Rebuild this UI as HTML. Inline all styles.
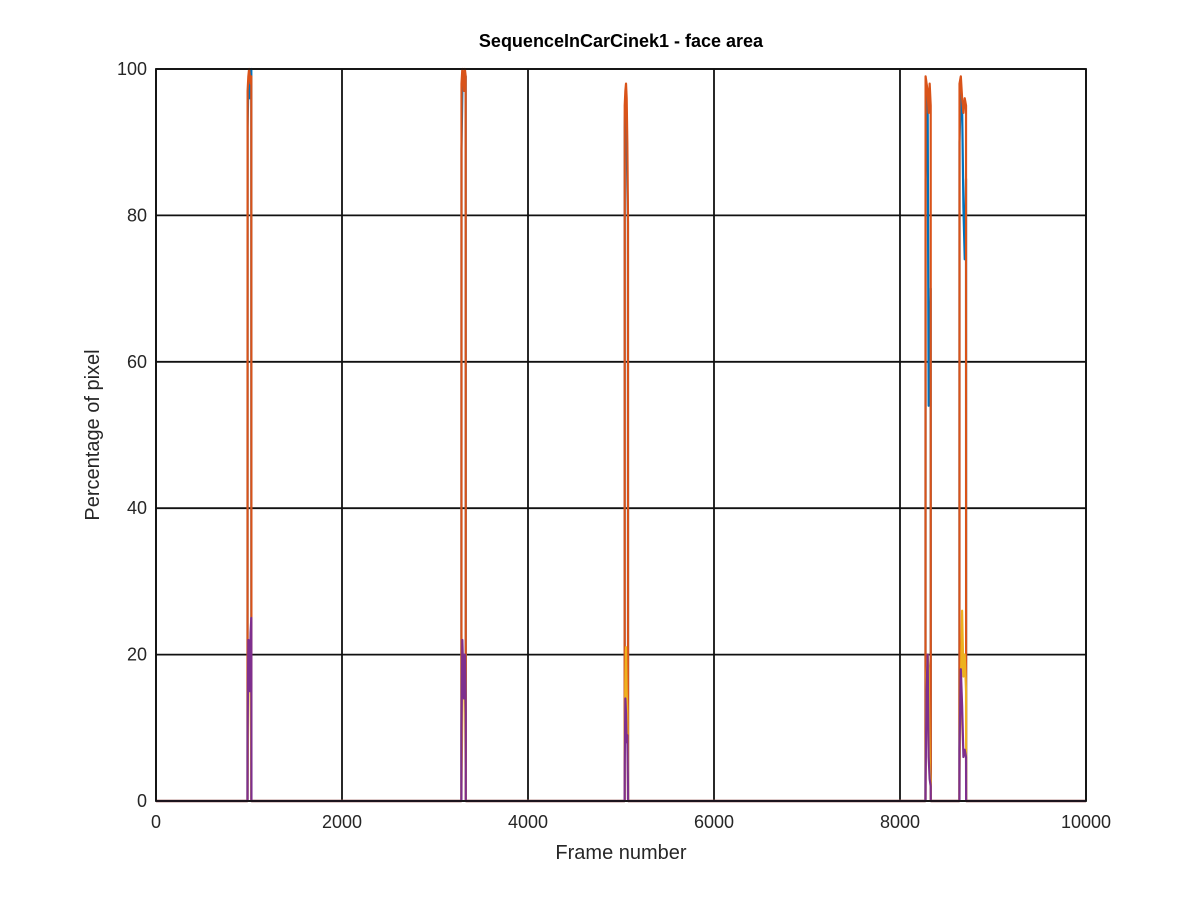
<!DOCTYPE html>
<html><head><meta charset="utf-8"><style>
html,body{margin:0;padding:0;background:#fff}
svg{display:block;font-family:"Liberation Sans",sans-serif}
</style></head><body>
<svg id="chart" width="1200" height="898">
<rect x="0" y="0" width="1200" height="898" fill="#fff"/>
<g id="grid"></g>
<g id="series"></g>
<g id="axes"></g>
<text x="621" y="47" text-anchor="middle" font-size="18" font-weight="bold" fill="#000">SequenceInCarCinek1 - face area</text>
<text x="621" y="859" text-anchor="middle" font-size="20" fill="#262626">Frame number</text>
<text transform="translate(99,435) rotate(-90)" text-anchor="middle" font-size="20" fill="#262626">Percentage of pixel</text>
</svg>
<script>
const xTicks = [0, 2000, 4000, 6000, 8000, 10000];
const yTicks = [0, 20, 40, 60, 80, 100];
const frames = [0,
 984, 985, 993, 1001, 1009, 1017, 1025, 1026,
 3284, 3285, 3294, 3303, 3312, 3321, 3330, 3331,
 5039, 5040, 5047, 5054, 5061, 5068, 5075, 5076,
 8274, 8275, 8286, 8297, 8308, 8319, 8330, 8331,
 8639, 8640, 8654, 8668, 8682, 8696, 8710, 8711,
 10000];
const blueVals = [0,
 0, 92, 98, 99, 96, 99, 100, 0,
 0, 89, 97, 99, 98, 97, 99, 0,
 0, 92, 96, 97, 91, 84, 79, 0,
 0, 85, 96, 97, 54, 60, 70, 0,
 0, 90, 97, 95, 81, 74, 85, 0,
 0];
const orangeVals = [0,
 0, 97, 99, 100, 99, 98, 99, 0,
 0, 98, 100, 99, 97, 100, 99, 0,
 0, 95, 97, 98, 96, 90, 80, 0,
 0, 99, 98, 97, 94, 98, 95, 0,
 0, 98, 99, 96, 94, 96, 95, 0,
 0];
const yellowVals = [0,
 0, 2, 16, 20, 18, 22, 3, 0,
 0, 2, 12, 20, 15, 18, 3, 0,
 0, 8, 16, 21, 15, 12, 3, 0,
 0, 2, 17, 20, 18, 5, 2, 0,
 0, 4, 15, 26, 17, 20, 15, 0,
 0];
const purpleVals = [0,
 0, 9, 22, 18, 15, 23, 25, 0,
 0, 10, 22, 18, 14, 20, 12, 0,
 0, 5, 14, 12, 8, 9, 2, 0,
 0, 3, 15, 20, 6, 3, 2, 0,
 0, 7, 18, 13, 6, 7, 6, 0,
 0];

const NS = "http://www.w3.org/2000/svg";
const X0 = 156, X1 = 1086, Y0 = 801, Y1 = 69;
function xs(v){ return X0 + (v - 0) / 10000 * (X1 - X0); }
function ys(v){ return Y0 - (v - 0) / 100 * (Y0 - Y1); }
function mk(tag, attrs, parent){
  const e = document.createElementNS(NS, tag);
  for (const k in attrs) e.setAttribute(k, attrs[k]);
  parent.appendChild(e);
  return e;
}
const grid = document.getElementById('grid');
const axes = document.getElementById('axes');
const seriesG = document.getElementById('series');

xTicks.forEach(t => {
  const l = mk('line', {x1: xs(t), x2: xs(t), y1: Y1, y2: Y0, stroke: '#111', 'stroke-width': 1.8}, grid);
  
  
  const tx = mk('text', {x: xs(t), y: Y0 + 27, 'text-anchor': 'middle', 'font-size': 18, fill: '#262626'}, axes);
  tx.textContent = t;
  
  
});
yTicks.forEach(t => {
  const l = mk('line', {x1: X0, x2: X1, y1: ys(t), y2: ys(t), stroke: '#111', 'stroke-width': 1.8}, grid);
  
  
  const tx = mk('text', {x: X0 - 9, y: ys(t) + 6, 'text-anchor': 'end', 'font-size': 18, fill: '#262626'}, axes);
  tx.textContent = t;
  
  
});
const box = mk('rect', {x: X0, y: Y1, width: X1 - X0, height: Y0 - Y1, fill: 'none', stroke: '#111', 'stroke-width': 1.8}, axes);



const series = [
  {vals: blueVals, color: '#0072BD', name: 'series-blue'},
  {vals: orangeVals, color: '#D95319', name: 'series-orange'},
  {vals: yellowVals, color: '#EDB120', name: 'series-yellow'},
  {vals: purpleVals, color: '#7E2F8E', name: 'series-purple'}
];
series.forEach(s => {
  const pts = frames.map((f, i) => xs(f).toFixed(2) + ',' + ys(s.vals[i]).toFixed(2)).join(' ');
  const p = mk('polyline', {points: pts, fill: 'none', stroke: s.color, 'stroke-width': 2.2, 'stroke-linejoin': 'round'}, seriesG);
  
  
});
</script>
</body></html>
